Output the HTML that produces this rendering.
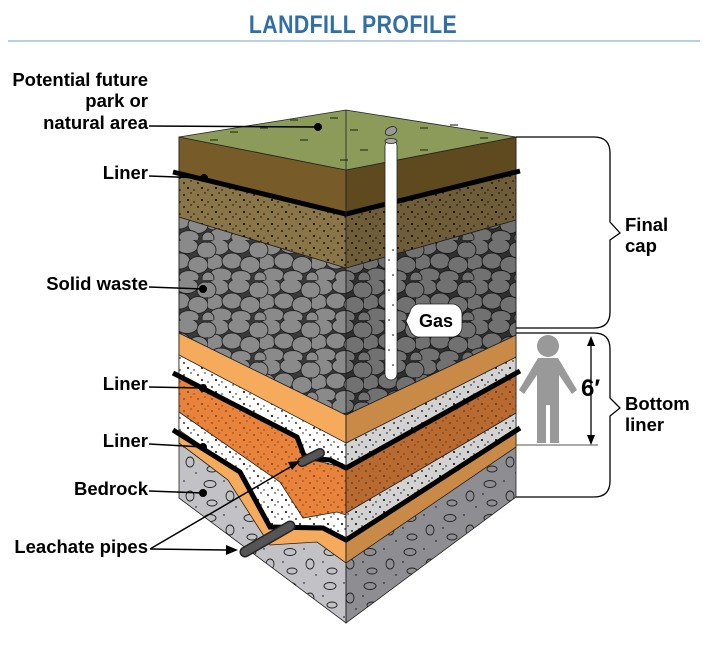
<!DOCTYPE html>
<html><head><meta charset="utf-8"><style>
html,body{margin:0;padding:0;background:#fff;}
svg{display:block;font-family:"Liberation Sans",sans-serif;}
.lb{font-weight:bold;font-size:18.5px;fill:#000;}
</style></head><body>
<svg width="706" height="654" viewBox="0 0 706 654" xmlns="http://www.w3.org/2000/svg">
<defs>
<pattern id="rocks" width="52" height="40" patternUnits="userSpaceOnUse">
<rect width="52" height="40" fill="#3a3a3a"/>
<g fill="#8a8a8a" stroke="#222" stroke-width="0.9">
<ellipse cx="10" cy="7" rx="11" ry="8"/><ellipse cx="31" cy="6" rx="11" ry="7.5"/><ellipse cx="49" cy="10" rx="8" ry="8"/>
<ellipse cx="6" cy="22" rx="9" ry="8"/><ellipse cx="24" cy="21" rx="10" ry="8"/><ellipse cx="42" cy="25" rx="10" ry="8.5"/>
<ellipse cx="13" cy="35" rx="11" ry="7"/><ellipse cx="33" cy="37" rx="10" ry="6.5"/><ellipse cx="52" cy="38" rx="6" ry="6"/><ellipse cx="0" cy="38" rx="6" ry="6"/><ellipse cx="0" cy="10" rx="8" ry="8"/>
</g></pattern>
<pattern id="dots" width="14" height="12" patternUnits="userSpaceOnUse">
<circle cx="2" cy="3" r="0.9" fill="#000"/><circle cx="9" cy="1" r="0.7" fill="#000"/><circle cx="6" cy="8" r="1" fill="#000"/><circle cx="12" cy="10" r="0.7" fill="#000"/>
</pattern>
<pattern id="stones" width="40" height="34" patternUnits="userSpaceOnUse">
<g fill="none" stroke="#222" stroke-width="0.9"><ellipse cx="10" cy="8" rx="6" ry="3.5"/><ellipse cx="30" cy="20" rx="4" ry="5"/><ellipse cx="12" cy="27" rx="5" ry="3"/></g>
<circle cx="24" cy="5" r="0.7" fill="#000"/><circle cx="3" cy="18" r="0.7" fill="#000"/><circle cx="36" cy="31" r="0.7" fill="#000"/>
</pattern>
</defs>

<text x="353" y="33" text-anchor="middle" style="font-weight:bold;font-size:25px;fill:#2f6ea6;letter-spacing:0.5px" transform="translate(353 0) scale(0.85 1) translate(-353 0)">LANDFILL PROFILE</text>
<line x1="8" y1="41" x2="700" y2="41" stroke="#8fb3d3" stroke-width="1.2"/>

<!-- LEFT FACE -->
<g stroke="#222" stroke-width="0.8">
<polygon points="179,137 346,170 346,623 179,498" fill="#c2c2c6"/>
<polygon points="179,137 346,170 346,623 179,498" fill="url(#stones)" stroke="none"/>
<polygon points="179,137 346,170 346,563 317,542 270,545 260,530 228,480 179,443" fill="#f6aa5c"/>
<polygon points="179,137 346,170 346,540 323,528 270,527 240,472 179,430" fill="#fff"/>
<polygon points="179,137 346,170 346,540 323,528 270,527 240,472 179,430" fill="url(#dots)" stroke="none"/>
<polygon points="179,374 297,437 305,458 346,468 346,515 337,512 303,518 280,482 179,412" fill="#e9833b"/>
<polygon points="179,374 297,437 305,458 346,468 346,515 337,512 303,518 280,482 179,412" fill="url(#dots)" stroke="none" opacity="0.5"/>
<polygon points="179,333 346,415 346,443 179,355" fill="#f6aa5c"/>
<polygon points="179,217 346,268 346,415 179,333" fill="url(#rocks)"/>
<polygon points="179,173 346,214 346,268 179,217" fill="#8a7548"/>
<polygon points="179,173 346,214 346,268 179,217" fill="url(#dots)" stroke="none"/>
<polygon points="179,137 346,170 346,214 179,173" fill="#775b28"/>
</g>
<!-- RIGHT FACE -->
<g stroke="#222" stroke-width="0.8">
<polygon points="346,170 516,137 516,497 346,623" fill="#8e8e92"/>
<polygon points="346,170 516,137 516,497 346,623" fill="url(#stones)" stroke="none"/>
<polygon points="346,540 516,430 516,447 346,563" fill="#c98a48"/>
<polygon points="346,513 516,413 516,430 346,540" fill="#d2d2d2"/>
<polygon points="346,513 516,413 516,430 346,540" fill="url(#dots)" stroke="none"/>
<polygon points="346,443 516,357 516,373 346,468" fill="#d2d2d2"/>
<polygon points="346,443 516,357 516,373 346,468" fill="url(#dots)" stroke="none"/>
<polygon points="346,468 516,373 516,413 346,513" fill="#b96a30"/>
<polygon points="346,468 516,373 516,413 346,513" fill="url(#dots)" stroke="none" opacity="0.5"/>
<polygon points="346,415 516,335 516,357 346,443" fill="#c98a48"/>
<polygon points="346,268 516,220 516,335 346,415" fill="url(#rocks)"/>
<polygon points="346,268 516,220 516,335 346,415" fill="#000" opacity="0.18" stroke="none"/>
<polygon points="346,214 516,172 516,220 346,268" fill="#6e5d38"/>
<polygon points="346,214 516,172 516,220 346,268" fill="url(#dots)" stroke="none"/>
<polygon points="346,170 516,137 516,172 346,214" fill="#5f4a20"/>
</g>
<!-- TOP -->
<polygon points="179,137 346,110 516,137 346,170" fill="#8c9a5a" stroke="#222" stroke-width="0.8"/>
<g stroke="#2a3a10" stroke-width="1.2">
<line x1="230" y1="132" x2="238" y2="132"/><line x1="260" y1="128" x2="268" y2="128"/><line x1="290" y1="120" x2="298" y2="120"/><line x1="330" y1="118" x2="338" y2="118"/><line x1="350" y1="130" x2="358" y2="130"/><line x1="420" y1="128" x2="428" y2="128"/><line x1="450" y1="125" x2="458" y2="125"/><line x1="300" y1="140" x2="308" y2="140"/><line x1="360" y1="150" x2="368" y2="150"/><line x1="420" y1="150" x2="428" y2="150"/><line x1="480" y1="138" x2="488" y2="138"/><line x1="340" y1="160" x2="348" y2="160"/><line x1="210" y1="140" x2="218" y2="140"/>
</g>
<!-- liners -->
<g fill="none" stroke="#000" stroke-width="5" stroke-linejoin="miter">
<polyline points="173,172 346,214 520,171"/>
<polyline points="173,373 297,437 305,458 330,460 346,468 520,371"/>
<polyline points="173,430 240,472 270,527 323,528 346,540 520,428"/>
</g>
<line x1="346" y1="110" x2="346" y2="623" stroke="#222" stroke-width="0.8"/>
<!-- pipes -->
<g stroke-linecap="round">
<line x1="302" y1="462" x2="320" y2="453" stroke="#222" stroke-width="10"/>
<line x1="302" y1="462" x2="320" y2="453" stroke="#555" stroke-width="7"/>
<line x1="245" y1="552" x2="290" y2="526" stroke="#222" stroke-width="11"/>
<line x1="245" y1="552" x2="290" y2="526" stroke="#555" stroke-width="8"/>
</g>
<!-- gas pipe -->
<rect x="385" y="140" width="12" height="240" rx="6" fill="#fff" stroke="#222" stroke-width="0.8"/>
<g fill="#000"><circle cx="389" cy="260" r="0.8"/><circle cx="393" cy="275" r="0.8"/><circle cx="389" cy="290" r="0.8"/><circle cx="393" cy="305" r="0.8"/><circle cx="389" cy="320" r="0.8"/><circle cx="393" cy="335" r="0.8"/><circle cx="389" cy="350" r="0.8"/><circle cx="393" cy="365" r="0.8"/><circle cx="393" cy="250" r="0.8"/></g>
<ellipse cx="391" cy="141" rx="6" ry="2.5" fill="#aaa" stroke="#222" stroke-width="0.8"/>
<ellipse cx="391" cy="131" rx="6" ry="4" fill="#999" stroke="#222" stroke-width="0.8" transform="rotate(-25 391 131)"/>
<path d="M418,304 H452 A10,10 0 0 1 462,314 V327 A10,10 0 0 1 452,337 H418 A10,10 0 0 1 410,330 L406,321 L410,312 A10,10 0 0 1 418,304 Z" fill="#fff" stroke="#222" stroke-width="0.8"/>
<text x="436" y="327" text-anchor="middle" style="font-weight:bold;font-size:18px">Gas</text>

<!-- brackets -->
<g fill="none" stroke="#000" stroke-width="1.3">
<path d="M516,137 H594 Q610,137 610,153 V222 L620,233 L610,240 V312 Q610,328 594,328 H516"/>
<path d="M516,333 H594 Q610,333 610,349 V398 L620,408 L610,416 V481 Q610,497 594,497 H516"/>
<line x1="516" y1="445" x2="598" y2="445" stroke="#555" stroke-width="1"/>
<line x1="591" y1="343" x2="591" y2="439"/>
</g>
<polygon points="591,336 587,346 595,346" fill="#000"/>
<polygon points="591,445 587,435 595,435" fill="#000"/>
<text x="581" y="396" style="font-weight:bold;font-size:24px">6′</text>
<g fill="#999">
<circle cx="548" cy="346" r="11"/>
<path d="M538,358 H558 L577,390 L572,394 L559,375 V443 H550 V405 H546 V443 H537 V375 L524,394 L519,390 Z"/>
</g>
<text x="625" y="231" class="lb">Final</text>
<text x="625" y="252" class="lb">cap</text>
<text x="625" y="410" class="lb">Bottom</text>
<text x="625" y="431" class="lb">liner</text>

<!-- left labels -->
<g text-anchor="end" class="lb">
<text x="148" y="86">Potential future</text>
<text x="148" y="107">park or</text>
<text x="148" y="129">natural area</text>
<text x="148" y="179">Liner</text>
<text x="148" y="290">Solid waste</text>
<text x="148" y="390">Liner</text>
<text x="148" y="447">Liner</text>
<text x="148" y="495">Bedrock</text>
<text x="148" y="553">Leachate pipes</text>
</g>
<g stroke="#000" stroke-width="1.5">
<line x1="149" y1="126" x2="318" y2="127"/><line x1="149" y1="176" x2="204" y2="178"/><line x1="149" y1="287" x2="203" y2="289"/><line x1="149" y1="387" x2="203" y2="388"/><line x1="149" y1="444" x2="203" y2="447"/><line x1="149" y1="491" x2="203" y2="493"/>
<line x1="150" y1="549" x2="292" y2="466"/><line x1="150" y1="549" x2="226" y2="550"/>
</g>
<g fill="#000">
<circle cx="318" cy="127" r="4"/><circle cx="204" cy="178" r="4"/><circle cx="203" cy="289" r="4"/><circle cx="203" cy="388" r="4"/><circle cx="203" cy="447" r="4"/><circle cx="203" cy="493" r="4"/>
<polygon points="300,461 288,462 292,470"/>
<polygon points="238,550 226,545 226,555"/>
</g>
</svg>
</body></html>
